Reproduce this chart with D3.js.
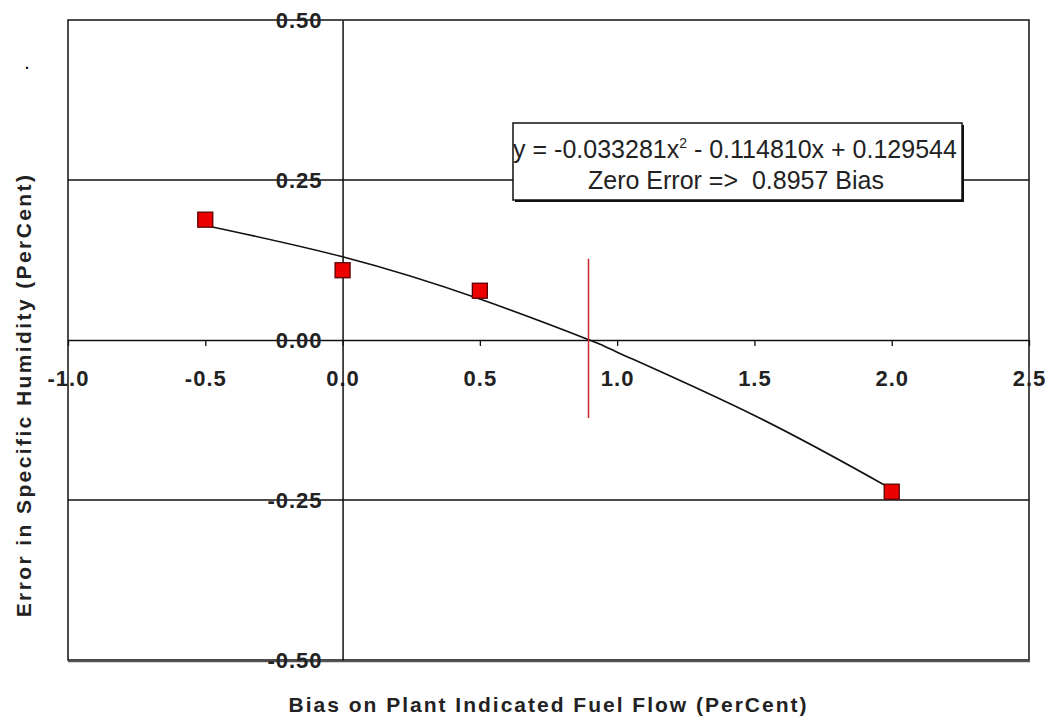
<!DOCTYPE html>
<html>
<head>
<meta charset="utf-8">
<script src="https://cdn.jsdelivr.net/npm/d3@7"></script>
<style>
  body { margin: 0; background: #fff; }
  text { font-family: "Liberation Sans", Arial, sans-serif; }
</style>
</head>
<body>
<div id="chart"></div>
<script>
// measured points
const biasX = [-0.5, 0.0, 0.5, 2.0];
const humidityErr = [0.188, 0.109, 0.077, -0.237];

// fitted trend line
const trendX = [-0.5, 0.0, 0.5, 0.9, 1.0, 1.5, 2.0];
const trendY = [0.179, 0.130, 0.064, 0.0, -0.019, -0.118, -0.233];

const xTicks = [-1.0, -0.5, 0.0, 0.5, 1.0, 1.5, 2.0, 2.5];
const yTicks = [0.50, 0.25, 0.00, -0.25, -0.50];
const yGrid = [0.25, -0.25];

const zeroBias = 0.8957;
const zeroMarkSpan = [0.127, -0.122];

const fitText = ["y = -0.033281x", "2", " - 0.114810x + 0.129544"];
const zeroText = "Zero Error =>  0.8957 Bias";

const width = 1051, height = 719;
const margin = { top: 20, right: 22, bottom: 59, left: 68 };

const svg = d3.select("#chart")
  .append("svg")
  .attr("width", width)
  .attr("height", height);

const x = d3.scaleLinear()
  .domain([-1.0, 2.5])
  .range([margin.left, width - margin.right]);

const y = d3.scaleLinear()
  .domain([-0.5, 0.5])
  .range([height - margin.bottom, margin.top]);

// horizontal gridlines
svg.selectAll(".grid")
  .data(yGrid)
  .enter()
  .append("line")
  .attr("x1", x(-1.0))
  .attr("x2", x(2.5))
  .attr("y1", d => y(d))
  .attr("y2", d => y(d))
  .attr("stroke", "#111")
  .attr("stroke-width", 1.3);

// plot frame
svg.append("rect")
  .attr("x", x(-1.0))
  .attr("y", y(0.5))
  .attr("width", x(2.5) - x(-1.0))
  .attr("height", y(-0.5) - y(0.5))
  .attr("fill", "none")
  .attr("stroke", "#111")
  .attr("stroke-width", 1.5);
svg.append("line")
  .attr("x1", x(-1.0))
  .attr("x2", x(2.5) + 1)
  .attr("y1", y(-0.5) + 1.5)
  .attr("y2", y(-0.5) + 1.5)
  .attr("stroke", "#555")
  .attr("stroke-width", 1.5);

const labelStyle = sel => sel
  .style("font-size", "22px")
  .style("font-weight", "bold")
  .style("letter-spacing", "1px")
  .attr("fill", "#222");

// x axis crossing at y = 0
const xAxis = svg.append("g")
  .attr("transform", `translate(0, ${y(0)})`)
  .call(d3.axisBottom(x).tickValues(xTicks).tickSize(6).tickSizeOuter(0).tickFormat(d => d.toFixed(1)));
xAxis.select(".domain").attr("stroke", "#111").attr("stroke-width", 1.5);
xAxis.selectAll(".tick line").attr("stroke", "#111").attr("stroke-width", 1.3);
xAxis.selectAll(".tick text")
  .attr("y", 46)
  .attr("dy", 0)
  .call(labelStyle);

// y axis crossing at x = 0
const yAxis = svg.append("g")
  .attr("transform", `translate(${x(0)}, 0)`)
  .call(d3.axisLeft(y).tickValues(yTicks).tickSize(0).tickSizeOuter(0).tickFormat(d => d.toFixed(2)));
yAxis.select(".domain").attr("stroke", "#111").attr("stroke-width", 1.5);
yAxis.selectAll(".tick text")
  .attr("x", -20)
  .attr("dy", "0.35em")
  .call(labelStyle);

// trend line
const line = d3.line()
  .x(d => x(d[0]))
  .y(d => y(d[1]))
  .curve(d3.curveNatural);

svg.append("path")
  .attr("d", line(d3.zip(trendX, trendY)))
  .attr("fill", "none")
  .attr("stroke", "#111")
  .attr("stroke-width", 1.6);

// zero error marker
svg.append("line")
  .attr("x1", x(zeroBias))
  .attr("x2", x(zeroBias))
  .attr("y1", y(zeroMarkSpan[0]))
  .attr("y2", y(zeroMarkSpan[1]))
  .attr("stroke", "#c8282d")
  .attr("stroke-width", 1.5);

// data points
const sq = 15;
svg.selectAll(".pt")
  .data(d3.zip(biasX, humidityErr))
  .enter()
  .append("rect")
  .attr("x", d => x(d[0]) - sq / 2)
  .attr("y", d => y(d[1]) - sq / 2)
  .attr("width", sq)
  .attr("height", sq)
  .attr("fill", "#ee0000")
  .attr("stroke", "#5a0000")
  .attr("stroke-width", 1.3);

// equation box
const box = { x: 513, y: 123, w: 449, h: 77 };
svg.append("rect")
  .attr("x", box.x + 2)
  .attr("y", box.y + 2)
  .attr("width", box.w)
  .attr("height", box.h)
  .attr("fill", "#111");
svg.append("rect")
  .attr("x", box.x)
  .attr("y", box.y)
  .attr("width", box.w)
  .attr("height", box.h)
  .attr("fill", "#fff")
  .attr("stroke", "#111")
  .attr("stroke-width", 1.5);

const eq = svg.append("text")
  .attr("x", 735)
  .attr("y", 158)
  .attr("text-anchor", "middle")
  .style("font-size", "25px")
  .attr("fill", "#222");
eq.append("tspan").text(fitText[0]);
eq.append("tspan").attr("dy", -10).style("font-size", "14px").text(fitText[1]);
eq.append("tspan").attr("dy", 10).text(fitText[2]);

svg.append("text")
  .attr("x", 736)
  .attr("y", 189)
  .attr("text-anchor", "middle")
  .style("font-size", "25px")
  .style("white-space", "pre")
  .attr("fill", "#222")
  .text(zeroText);

// axis titles
svg.append("text")
  .attr("x", (x(-1.0) + x(2.5)) / 2)
  .attr("y", 712)
  .attr("text-anchor", "middle")
  .style("font-size", "21px")
  .style("font-weight", "bold")
  .style("letter-spacing", "2px")
  .attr("fill", "#222")
  .text("Bias on Plant Indicated Fuel Flow (PerCent)");

svg.append("text")
  .attr("transform", `translate(31, ${(172 + 618) / 2}) rotate(-90)`)
  .attr("text-anchor", "middle")
  .style("font-size", "21px")
  .style("font-weight", "bold")
  .style("letter-spacing", "2.4px")
  .attr("fill", "#222")
  .text("Error in Specific Humidity (PerCent)");

svg.append("text")
  .attr("x", 25)
  .attr("y", 69)
  .style("font-size", "14px")
  .style("font-weight", "bold")
  .text(".");
</script>
</body>
</html>
